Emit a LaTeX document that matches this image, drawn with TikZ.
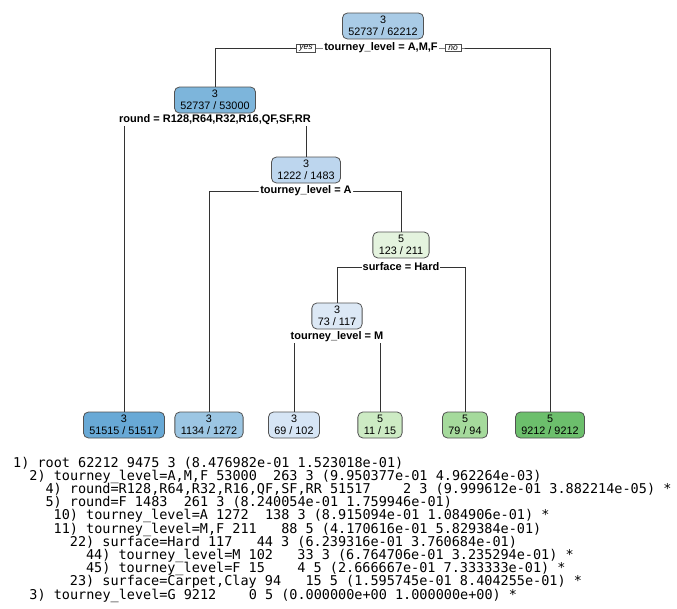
\documentclass[tikz,border=0pt]{standalone}
\usepackage{fontspec}
\setmainfont{Liberation Sans}
\newfontfamily\monof[WordSpace={1,0,0}]{DejaVu Sans Mono}
\definecolor{cA}{HTML}{A9CBE6}
\definecolor{cB}{HTML}{7DB5DB}
\definecolor{cC}{HTML}{BDD6EE}
\definecolor{cD}{HTML}{E4F3DE}
\definecolor{cE}{HTML}{DCE8F5}
\definecolor{cL4}{HTML}{68A9D6}
\definecolor{cL10}{HTML}{9CC6E3}
\definecolor{cL44}{HTML}{D6E5F5}
\definecolor{cL45}{HTML}{CDEBC4}
\definecolor{cL23}{HTML}{A5DA9C}
\definecolor{cL3}{HTML}{6CBF6C}
\begin{document}
\begin{tikzpicture}[x=1pt,y=-1pt,
  tn/.style={draw=black!68, line width=0.8pt, rounded corners=5pt, align=center,
    inner xsep=6pt, inner ysep=1.5pt, minimum height=26pt,
    font=\fontsize{10.8}{11.8}\selectfont},
  sp/.style={fill=white, inner xsep=1pt, inner ysep=1pt, font=\bfseries\fontsize{11}{12}\selectfont},
  yn/.style={draw=black!70, line width=0.4pt, fill=white, inner xsep=3pt, inner ysep=1pt,
    font=\itshape\fontsize{8.5}{9}\selectfont},
  br/.style={draw=black!80, line width=0.6pt},
  tx/.style={anchor=base west, inner sep=0pt, font=\monof\fontsize{13.5}{13.5}\selectfont}
]
\useasboundingbox (0,0) rectangle (677,608);
% tree nodes
\node[tn, fill=cA] (n1) at (383,26) {3\\52737 / 62212};
\node[tn, fill=cB] (n2) at (215,100) {3\\52737 / 53000};
\node[tn, fill=cC] (n5) at (306,170) {3\\1222 / 1483};
\node[tn, fill=cD] (n11) at (401,245) {5\\123 / 211};
\node[tn, fill=cE] (n22) at (337,316) {3\\73 / 117};
% leaves
\node[tn, fill=cL4] (l4) at (124,425) {3\\51515 / 51517};
\node[tn, fill=cL10] (l10) at (209,425) {3\\1134 / 1272};
\node[tn, fill=cL44] (l44) at (294,425) {3\\69 / 102};
\node[tn, fill=cL45] (l45) at (380,425) {5\\11 / 15};
\node[tn, fill=cL23] (l23) at (465,425) {5\\79 / 94};
\node[tn, fill=cL3] (l3) at (550,425) {5\\9212 / 9212};
% split points
\coordinate (c1) at (381,48);
\coordinate (c2) at (215,120);
\coordinate (c5) at (306,191);
\coordinate (c11) at (401,267);
\coordinate (c22) at (337,337);
% branches
\draw[br] (n2.north) |- (c1) -| (l3.north);
\draw[br] (l4.north) |- (c2) -| (n5.north);
\draw[br] (l10.north) |- (c5) -| (n11.north);
\draw[br] (n22.north) |- (c11) -| (l23.north);
\draw[br] (l44.north) |- (c22) -| (l45.north);
% split labels
\node[sp] (s1) at (c1) {tourney\_level = A,M,F};
\node[yn] (yes) at (306,48) {yes};
\node[yn] (no) at (453,48) {no};
\node[sp] (s2) at (c2) {round = R128,R64,R32,R16,QF,SF,RR};
\node[sp] (s5) at (c5) {tourney\_level = A};
\node[sp] (s11) at (c11) {surface = Hard};
\node[sp] (s22) at (c22) {tourney\_level = M};
% printed text
\node[tx] (t1) at (13,467) {1) root 62212 9475 3 (8.476982e-01 1.523018e-01)};
\node[tx] (t2) at (29.2,480.2) {2) tourney\_level=A,M,F 53000~~263 3 (9.950377e-01 4.962264e-03)};
\node[tx] (t3) at (45.4,493.4) {4) round=R128,R64,R32,R16,QF,SF,RR 51517~~~~2 3 (9.999612e-01 3.882214e-05) *};
\node[tx] (t4) at (45.4,506.6) {5) round=F 1483~~261 3 (8.240054e-01 1.759946e-01)};
\node[tx] (t5) at (53.5,519.8) {10) tourney\_level=A 1272~~138 3 (8.915094e-01 1.084906e-01) *};
\node[tx] (t6) at (53.5,533) {11) tourney\_level=M,F 211~~~88 5 (4.170616e-01 5.829384e-01)};
\node[tx] (t7) at (69.7,546.2) {22) surface=Hard 117~~~44 3 (6.239316e-01 3.760684e-01)};
\node[tx] (t8) at (85.9,559.4) {44) tourney\_level=M 102~~~33 3 (6.764706e-01 3.235294e-01) *};
\node[tx] (t9) at (85.9,572.6) {45) tourney\_level=F 15~~~~4 5 (2.666667e-01 7.333333e-01) *};
\node[tx] (t10) at (69.7,585.8) {23) surface=Carpet,Clay 94~~~15 5 (1.595745e-01 8.404255e-01) *};
\node[tx] (t11) at (29.2,599) {3) tourney\_level=G 9212~~~~0 5 (0.000000e+00 1.000000e+00) *};
\end{tikzpicture}
\end{document}
